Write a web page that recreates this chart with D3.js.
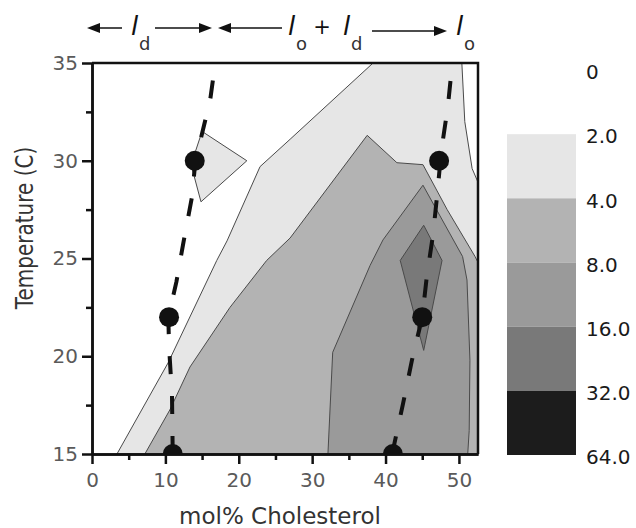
<!DOCTYPE html>
<html lang="en">
<head>
<meta charset="UTF-8">
<title>Phase contour - mol% Cholesterol</title>
<script src="https://d3js.org/d3.v7.min.js"></script>
<style>
  body { margin: 0; background: #fff; }
  svg text { font-family: 'DejaVu Sans', sans-serif; }
</style>
</head>
<body>
<div id="chart"></div>
<script>
// legend levels
const levels = [0, 2, 4, 8, 16, 32, 64];
const levelLabels = ["0", "2.0", "4.0", "8.0", "16.0", "32.0", "64.0"];
const levelFills = ["#ffffff", "#e6e6e6", "#b3b3b3", "#9a9a9a", "#797979", "#1c1c1c"];

// contour outlines as [mol% cholesterol, temperature]
const contour2 = [[3.4, 15], [10.35, 19.65], [17.0, 24.9], [18.4, 25.9], [22.9, 29.7], [27.0, 31.1],
  [38.3, 35], [50.4, 35], [50.8, 32.0], [51.8, 29.6], [52.6, 28.9], [52.6, 15]];
const island2 = [[15.0, 31.5], [21.1, 30.0], [14.85, 27.9], [13.5, 29.8]];
const contour4 = [[7.2, 15], [10.6, 17.25], [13.35, 19.45], [18.8, 22.5], [23.8, 24.9], [27.0, 26.05],
  [37.5, 31.3], [41.55, 29.9], [45.1, 29.8], [48.4, 27.5], [52.2, 25.1], [52.6, 24.8], [52.6, 15]];
const contour8 = [[32.15, 15], [32.8, 20.2], [37.9, 24.65], [39.65, 25.95], [45.1, 28.75], [50.5, 25.1],
  [51.1, 23.9], [51.5, 19.8], [51.4, 16.2], [51.2, 15]];
const contour16 = [[45.2, 26.7], [47.7, 24.9], [45.2, 20.3], [42.0, 24.9]];

// phase boundaries (dashed) and measured points
const boundaryLeft = [[11.0, 15], [10.9, 18], [10.5, 20.5], [10.4, 22], [11.5, 23.8], [12.4, 25.7],
  [13.6, 28.1], [14.1, 30], [16.1, 33.1], [16.8, 35]];
const boundaryRight = [[40.9, 15], [42.4, 17.6], [43.6, 19.8], [45.0, 22], [45.6, 24], [46.5, 26.3],
  [47.1, 28.5], [47.6, 30.5], [48.5, 32.8], [49.1, 35]];
const phasePoints = [[11, 15], [10.5, 22], [14, 30], [41, 15], [45, 22], [47.3, 30]];

const xTicks = [0, 10, 20, 30, 40, 50];
const xMinor = [5, 15, 25, 35, 45];
const yTicks = [15, 20, 25, 30, 35];
const yMinor = [17.5, 22.5, 27.5, 32.5];

const width = 636, height = 528;
const svg = d3.select("#chart").append("svg")
  .attr("width", width).attr("height", height);

const x = d3.scaleLinear().domain([0, 52.6]).range([92, 478]);
const y = d3.scaleLinear().domain([15, 35]).range([454, 63]);

svg.append("clipPath").attr("id", "plot-clip")
  .append("rect")
  .attr("x", x(0)).attr("y", y(35))
  .attr("width", x(52.6) - x(0)).attr("height", y(15) - y(35));

const plot = svg.append("g").attr("clip-path", "url(#plot-clip)");

// filled contour bands, lowest first
const layers = [[contour2, 1], [island2, 1], [contour4, 2], [contour8, 3], [contour16, 4]];
const poly = d3.line().x(d => x(d[0])).y(d => y(d[1]));

plot.selectAll("path.band")
  .data(layers)
  .enter().append("path")
  .attr("class", "band")
  .attr("d", d => poly(d[0]) + "Z")
  .attr("fill", d => levelFills[d[1]])
  .attr("stroke", "#4a4a4a")
  .attr("stroke-width", 1);

// dashed phase boundaries
plot.selectAll("path.boundary")
  .data([boundaryLeft, boundaryRight])
  .enter().append("path")
  .attr("class", "boundary")
  .attr("d", d3.line().x(d => x(d[0])).y(d => y(d[1])))
  .attr("fill", "none")
  .attr("stroke", "#111")
  .attr("stroke-width", 4)
  .attr("stroke-dasharray", "18,22");

plot.selectAll("circle")
  .data(phasePoints)
  .enter().append("circle")
  .attr("cx", d => x(d[0]))
  .attr("cy", d => y(d[1]))
  .attr("r", 10)
  .attr("fill", "#111");

// axes
svg.append("g").attr("transform", `translate(${x(0)},0)`)
  .call(d3.axisLeft(y).tickValues(yTicks).tickSize(10).tickSizeOuter(0).tickPadding(4));
svg.append("g").attr("transform", `translate(${x(0)},0)`)
  .call(d3.axisLeft(y).tickValues(yMinor).tickSize(6).tickSizeOuter(0).tickFormat(""));

svg.append("g").attr("transform", `translate(0,${y(15)})`)
  .call(d3.axisBottom(x).tickValues(xTicks).tickSize(10).tickSizeOuter(0).tickPadding(9));
svg.append("g").attr("transform", `translate(0,${y(15)})`)
  .call(d3.axisBottom(x).tickValues(xMinor).tickSize(6).tickSizeOuter(0).tickFormat(""));

svg.selectAll(".domain").attr("stroke", "#111").attr("stroke-width", 2.5);
svg.selectAll(".tick line").attr("stroke", "#111").attr("stroke-width", 2.5);
svg.selectAll(".tick text").attr("font-size", 20).attr("fill", "#5a5a5a")
  .attr("font-family", "'DejaVu Sans', sans-serif");

// frame: top and right
svg.append("path")
  .attr("d", `M${x(0)},${y(35)}H${x(52.6)}V${y(15)}`)
  .attr("fill", "none")
  .attr("stroke", "#111")
  .attr("stroke-width", 2.5);

// axis titles
svg.append("text")
  .attr("x", 280).attr("y", 524)
  .attr("text-anchor", "middle")
  .attr("font-size", 23)
  .attr("fill", "#333")
  .text("mol% Cholesterol");

svg.append("text")
  .attr("transform", "translate(33,228) scale(1.2,1) rotate(-90)")
  .attr("text-anchor", "middle")
  .attr("font-size", 20)
  .attr("fill", "#333")
  .text("Temperature (C)");

// legend
const ly = d3.scaleLinear().domain([0, levels.length - 1]).range([70, 455]);
const legend = svg.append("g");
legend.selectAll("rect")
  .data(levels.slice(1, -1))
  .enter().append("rect")
  .attr("x", 507)
  .attr("y", (d, i) => ly(i + 1))
  .attr("width", 69)
  .attr("height", (d, i) => ly(i + 2) - ly(i + 1))
  .attr("fill", (d, i) => levelFills[i + 1]);
legend.selectAll("text")
  .data(levelLabels)
  .enter().append("text")
  .attr("x", 586)
  .attr("y", (d, i) => ly(i) + 2)
  .attr("dy", "0.36em")
  .attr("font-size", 20)
  .attr("fill", "#1a1a1a")
  .text(d => d);

// header: phase regions l_d, l_o + l_d, l_o
const header = svg.append("g");
function arrow(x1, x2, yy) {
  const dir = x2 > x1 ? 1 : -1;
  header.append("line")
    .attr("x1", x1).attr("x2", x2 - dir * 10)
    .attr("y1", yy).attr("y2", yy)
    .attr("stroke", "#111").attr("stroke-width", 1.5);
  header.append("path")
    .attr("d", `M${x2},${yy}L${x2 - dir * 13},${yy - 5}L${x2 - dir * 13},${yy + 5}Z`)
    .attr("fill", "#111");
}
arrow(122, 87, 28);
arrow(155, 212, 28);
arrow(282, 218, 28);
arrow(372, 447, 31);

function ell(xx, sub) {
  header.append("text")
    .attr("x", xx).attr("y", 35)
    .attr("font-size", 26)
    .attr("font-style", "italic")
    .attr("fill", "#111")
    .text("l");
  header.append("text")
    .attr("x", xx + 8).attr("y", 50)
    .attr("font-size", 18)
    .attr("fill", "#333")
    .text(sub);
}
ell(131, "d");
ell(288, "o");
ell(343, "d");
ell(456, "o");
header.append("text")
  .attr("x", 322).attr("y", 34)
  .attr("text-anchor", "middle")
  .attr("font-size", 21)
  .attr("fill", "#111")
  .text("+");
</script>
</body>
</html>
